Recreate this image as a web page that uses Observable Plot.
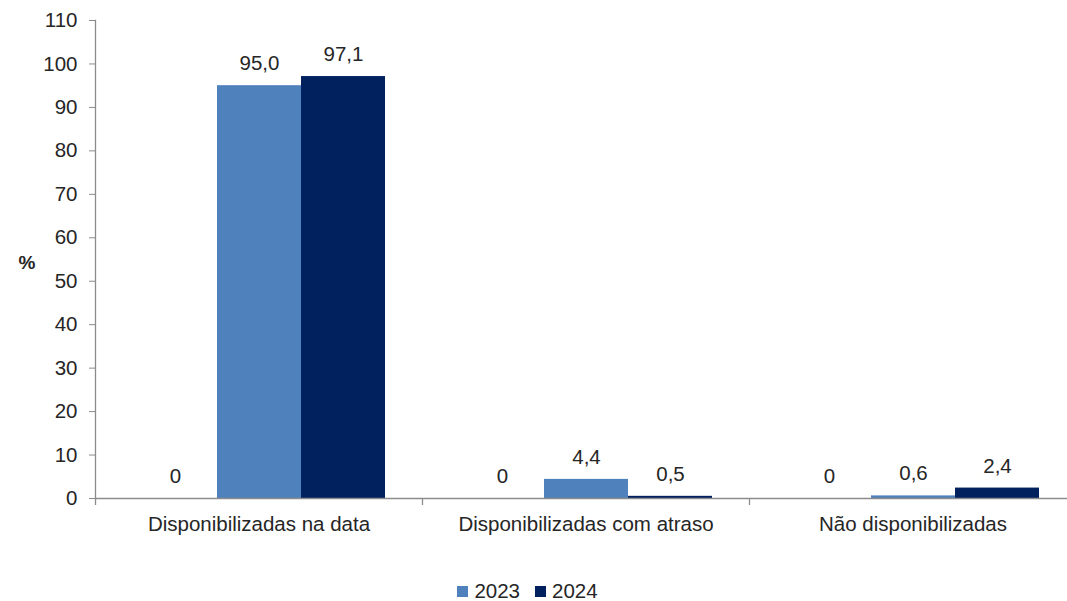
<!DOCTYPE html>
<html><head><meta charset="utf-8">
<script src="https://cdn.jsdelivr.net/npm/d3@7"></script>
<script src="https://cdn.jsdelivr.net/npm/@observablehq/plot@0.6"></script>
<style>
html,body{margin:0;padding:0;background:#fff;overflow:hidden;}
body{font-family:"Liberation Sans",Arial,sans-serif;color:#262626;}
#legend{display:flex;justify-content:center;align-items:center;gap:15px;font-size:20.5px;height:24px;margin-top:19px;padding-right:12px;}
#legend .item{display:flex;align-items:center;}
#legend .sw{display:inline-block;width:11px;height:11px;margin-right:6px;}
</style></head><body>
<div id="chart"></div><div id="legend"></div>
<script>
const categories = ["Disponibilizadas na data", "Disponibilizadas com atraso", "Não disponibilizadas"];
const series = ["base", "2023", "2024"];
const valuesBase = [0, 0, 0];
const values2023 = [95.0, 4.4, 0.6];
const values2024 = [97.1, 0.5, 2.4];
const yTicks = [0, 10, 20, 30, 40, 50, 60, 70, 80, 90, 100, 110];
const seriesColors = ["transparent", "#4F81BD", "#00205E"];
const legendSeries = ["2023", "2024"];

const seriesValues = [valuesBase, values2023, values2024];
const rows = [];
categories.forEach((c, i) => {
  series.forEach((s, j) => rows.push({cat: c, series: s, value: seriesValues[j][i]}));
});
const fmt = v => v === 0 ? "0" : v.toFixed(1).replace(".", ",");

const W = 1067, H = 560, mL = 95, mR = -9, mT = 20, mB = 62;
const band = (W - mL - mR) / categories.length;
const font = '"Liberation Sans", Arial, sans-serif';
const fs = 20.5;

const chart = Plot.plot({
  width: W, height: H, marginLeft: mL, marginRight: mR, marginTop: mT, marginBottom: mB,
  style: {fontFamily: font, fontSize: fs + "px", color: "#262626", background: "white", overflow: "hidden"},
  fx: {domain: categories, padding: 0, axis: null, label: null},
  x: {domain: series, paddingInner: 0, paddingOuter: 0.446, axis: null},
  y: {domain: [0, 110], axis: null},
  color: {domain: series, range: seriesColors},
  marks: [
    Plot.barY(rows, {fx: "cat", x: "series", y: "value", fill: "series"}),
    Plot.ruleY([0], {stroke: "#8c8c8c", strokeWidth: 1.3}),
    Plot.text(rows, {fx: "cat", x: "series", y: "value", text: d => fmt(d.value), dy: -22, lineAnchor: "middle", fontSize: fs, fill: "#262626"}),
    Plot.axisY({ticks: yTicks, tickSize: 6, tickPadding: 12, stroke: "#8c8c8c", color: "#262626", label: null, fontSize: fs}),
    Plot.frame({anchor: "left", facet: "super", stroke: "#8c8c8c", strokeWidth: 1.3}),
    Plot.axisFx({anchor: "bottom", tickSize: 0, tickPadding: 18, label: null, fontSize: fs, color: "#262626"}),
    Plot.axisFx({anchor: "bottom", tickSize: 7, tickFormat: () => "", dx: -band / 2, label: null, stroke: "#8c8c8c", strokeWidth: 1.3}),
    Plot.text(["%"], {frameAnchor: "left", dx: -77, dy: 3, facet: "super", fontWeight: "bold", fontSize: 19, fill: "#262626"})
  ]
});
document.getElementById("chart").appendChild(chart);

const legend = document.getElementById("legend");
legendSeries.forEach(s => {
  const item = document.createElement("div");
  item.className = "item";
  const sw = document.createElement("span");
  sw.className = "sw";
  sw.style.background = seriesColors[series.indexOf(s)];
  item.appendChild(sw);
  item.appendChild(document.createTextNode(s));
  legend.appendChild(item);
});
</script>
</body></html>
